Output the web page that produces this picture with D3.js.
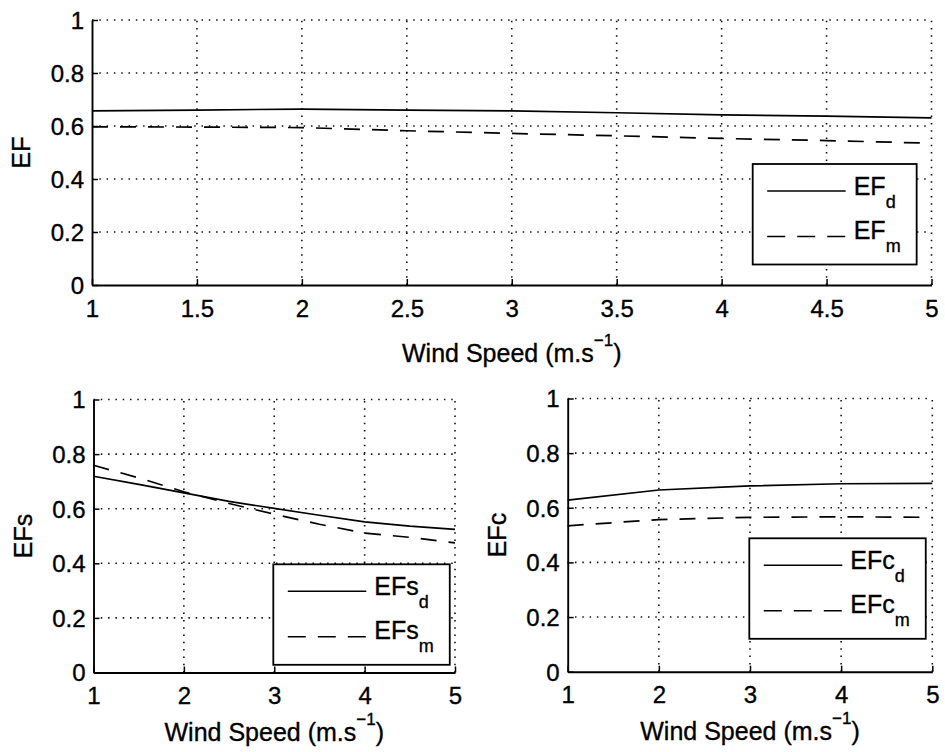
<!DOCTYPE html>
<html>
<head>
<meta charset="utf-8">
<script src="https://cdn.jsdelivr.net/npm/d3@7"></script>
<style>
  html, body { margin: 0; padding: 0; background: #fff; }
  svg { display: block; font-family: "Liberation Sans", Arial, Helvetica, sans-serif; }
  svg text { fill: #000; stroke: #000; stroke-width: 0.35px; }
</style>
</head>
<body>
<svg id="chart" width="945" height="752"></svg>
<script>
// Wind speed samples (m/s)
const windTop = [1, 1.5, 2, 2.5, 3, 3.5, 4, 4.5, 5];
const windLeft = [1, 1.5, 2, 2.5, 3, 3.5, 4, 4.5, 5];
const windRight = [1, 2, 3, 4, 5];

// Overall efficiency factor
const efD = [0.657, 0.660, 0.664, 0.660, 0.657, 0.650, 0.642, 0.637, 0.631];
const efM = [0.597, 0.596, 0.594, 0.582, 0.572, 0.563, 0.553, 0.545, 0.535];

// Efficiency factor, s component
const efsD = [0.719, 0.689, 0.658, 0.627, 0.601, 0.576, 0.552, 0.536, 0.524];
const efsM = [0.759, 0.713, 0.662, 0.619, 0.580, 0.543, 0.511, 0.495, 0.475];

// Efficiency factor, c component
const efcD = [0.628, 0.665, 0.680, 0.688, 0.689];
const efcM = [0.534, 0.557, 0.565, 0.567, 0.565];

// Tick values
const xTicksTop = [1, 1.5, 2, 2.5, 3, 3.5, 4, 4.5, 5];
const xTicksBottom = [1, 2, 3, 4, 5];
const yTicks = [0, 0.2, 0.4, 0.6, 0.8, 1];

const xLabelMain = "Wind Speed (m.s";
const xLabelSup = "\u22121";

const svg = d3.select("#chart");
const FONT_TICK = 24, FONT_LABEL = 25, FONT_SUB = 18;

const panels = [
  {
    box: { left: 92, right: 931.5, top: 20, bottom: 285 },
    x: windTop, xTicks: xTicksTop, yLabel: "EF", xLabelDy: 77,
    series: [ { y: efD, name: "EF", sub: "d", dash: null },
              { y: efM, name: "EF", sub: "m", dash: "16,12" } ],
    legend: { x: 752.7, y: 164 }
  },
  {
    box: { left: 93.5, right: 455, top: 399.5, bottom: 672.5 },
    x: windLeft, xTicks: xTicksBottom, yLabel: "EFs", xLabelDy: 68,
    series: [ { y: efsD, name: "EFs", sub: "d", dash: null },
              { y: efsM, name: "EFs", sub: "m", dash: "16,12" } ],
    legend: { x: 273.3, y: 564.3 }
  },
  {
    box: { left: 567.7, right: 932.3, top: 398.5, bottom: 671.7 },
    x: windRight, xTicks: xTicksBottom, yLabel: "EFc", xLabelDy: 68,
    series: [ { y: efcD, name: "EFc", sub: "d", dash: null },
              { y: efcM, name: "EFc", sub: "m", dash: "16,12" } ],
    legend: { x: 749.3, y: 538.3 }
  }
];

panels.forEach(p => {
  const b = p.box;
  const xs = d3.scaleLinear().domain([1, 5]).range([b.left, b.right]);
  const ys = d3.scaleLinear().domain([0, 1]).range([b.bottom, b.top]);
  const g = svg.append("g");

  // dotted grid
  const grid = g.append("g").attr("stroke", "#111").attr("stroke-width", 1.6)
    .attr("stroke-dasharray", "1.5,5.8");
  grid.selectAll("line.gy").data(yTicks.filter(v => v > 0)).join("line")
    .attr("x1", b.left).attr("x2", b.right)
    .attr("y1", d => ys(d)).attr("y2", d => ys(d));
  grid.selectAll("line.gx").data(p.xTicks.filter(v => v > 1)).join("line")
    .attr("y1", b.bottom).attr("y2", b.top)
    .attr("x1", d => xs(d)).attr("x2", d => xs(d));

  // data lines
  const line = d3.line().x((d, i) => xs(p.x[i])).y(d => ys(d));
  p.series.forEach(s => {
    g.append("path").datum(s.y)
      .attr("d", line)
      .attr("fill", "none")
      .attr("stroke", "#000")
      .attr("stroke-width", 1.7)
      .attr("stroke-dasharray", s.dash);
  });

  // axes with inward ticks
  const ax = g.append("g").attr("transform", `translate(0,${b.bottom})`)
    .call(d3.axisBottom(xs).tickValues(p.xTicks).tickFormat(d3.format("~g"))
      .tickSizeInner(-6).tickSizeOuter(0).tickPadding(14.5));
  const ay = g.append("g").attr("transform", `translate(${b.left},0)`)
    .call(d3.axisLeft(ys).tickValues(yTicks).tickFormat(d3.format("~g"))
      .tickSizeInner(-6).tickSizeOuter(0).tickPadding(8));
  [ax, ay].forEach(a => {
    a.select(".domain").attr("stroke", "#000").attr("stroke-width", 1.9);
    a.selectAll(".tick line").attr("stroke", "#000").attr("stroke-width", 1.5);
    a.selectAll(".tick text").attr("fill", "#000")
      .attr("font-size", FONT_TICK).attr("font-family", null);
  });
  ay.selectAll(".tick text").attr("dy", "0.35em");

  // y label
  g.append("text")
    .attr("transform", `translate(${b.left - 62},${(b.top + b.bottom) / 2}) rotate(-90)`)
    .attr("text-anchor", "middle")
    .attr("font-size", FONT_LABEL)
    .text(p.yLabel);

  // x label with superscript
  const xl = g.append("text")
    .attr("x", (b.left + b.right) / 2)
    .attr("y", b.bottom + p.xLabelDy)
    .attr("text-anchor", "middle")
    .attr("font-size", FONT_LABEL);
  xl.append("tspan").text(xLabelMain);
  xl.append("tspan").attr("font-size", 17).attr("dy", -16).text(xLabelSup);
  xl.append("tspan").attr("dy", 16).text(")");

  // legend
  const L = p.legend;
  const lg = svg.append("g");
  const rect = lg.append("rect").attr("x", L.x).attr("y", L.y)
    .attr("fill", "#fff").attr("stroke", "#000").attr("stroke-width", 1.8);
  const rows = [{ ly: 27, ty: 30.5 }, { ly: 72.5, ty: 74.5 }];
  let maxRight = 0;
  p.series.forEach((s, i) => {
    const r = rows[i];
    lg.append("line")
      .attr("x1", L.x + 14.5).attr("x2", L.x + 93)
      .attr("y1", L.y + r.ly).attr("y2", L.y + r.ly)
      .attr("stroke", "#000").attr("stroke-width", 1.6)
      .attr("stroke-dasharray", s.dash ? "18,12" : null);
    const t = lg.append("text")
      .attr("x", L.x + 101).attr("y", L.y + r.ty)
      .attr("font-size", FONT_LABEL);
    t.append("tspan").text(s.name);
    t.append("tspan").attr("font-size", FONT_SUB).attr("dy", 13).text(s.sub);
    const bb = t.node().getBBox();
    maxRight = Math.max(maxRight, bb.x + bb.width);
  });
  rect.attr("width", maxRight - L.x + 16).attr("height", 100.5);
});
</script>
</body>
</html>
